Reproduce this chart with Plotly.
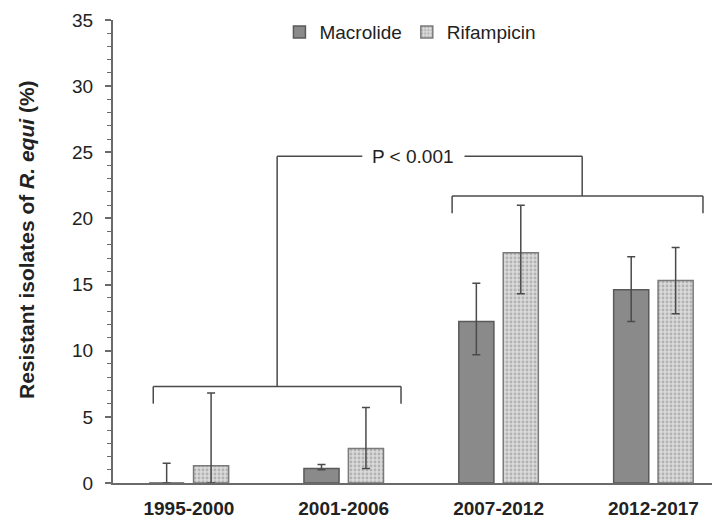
import plotly.graph_objects as go

# data
periods = ["1995-2000", "2001-2006", "2007-2012", "2012-2017"]
macrolide = [0.0, 1.1, 12.2, 14.6]
macrolide_hi = [1.5, 1.4, 15.1, 17.1]
macrolide_lo = [0.0, 1.0, 9.7, 12.2]
rifampicin = [1.3, 2.6, 17.4, 15.3]
rifampicin_hi = [6.8, 5.7, 21.0, 17.8]
rifampicin_lo = [0.0, 1.1, 14.3, 12.8]
p_label = "P < 0.001"

DARK = "#4a4a4a"
TXT = "#222222"
AXIS = "#6a6a6a"

fig = go.Figure()

fig.add_trace(go.Bar(
    x=list(range(len(periods))),
    y=macrolide,
    name="Macrolide",
    marker=dict(color="#8a8a8a", line=dict(color="#5a5a5a", width=1.5)),
    error_y=dict(
        type="data", symmetric=False,
        array=[h - v for h, v in zip(macrolide_hi, macrolide)],
        arrayminus=[v - l for v, l in zip(macrolide, macrolide_lo)],
        color=DARK, thickness=1.5, width=4,
    ),
))

fig.add_trace(go.Bar(
    x=list(range(len(periods))),
    y=rifampicin,
    name="Rifampicin",
    marker=dict(
        color="#d4d4d4",
        line=dict(color="#7a7a7a", width=1.5),
        pattern=dict(shape=".", fgcolor="#8a8a8a", bgcolor="#dadada", size=4, solidity=0.4),
    ),
    error_y=dict(
        type="data", symmetric=False,
        array=[h - v for h, v in zip(rifampicin_hi, rifampicin)],
        arrayminus=[v - l for v, l in zip(rifampicin, rifampicin_lo)],
        color=DARK, thickness=1.5, width=4,
    ),
))

# significance brackets
line = dict(color=DARK, width=1.5)
# lower bracket over first two periods
fig.add_shape(type="line", x0=-0.23, x1=1.37, y0=7.3, y1=7.3, line=line)
fig.add_shape(type="line", x0=-0.23, x1=-0.23, y0=7.3, y1=6.0, line=line)
fig.add_shape(type="line", x0=1.37, x1=1.37, y0=7.3, y1=6.0, line=line)
fig.add_shape(type="line", x0=0.57, x1=0.57, y0=7.3, y1=24.7, line=line)
# upper bracket over last two periods
fig.add_shape(type="line", x0=1.70, x1=3.32, y0=21.7, y1=21.7, line=line)
fig.add_shape(type="line", x0=1.70, x1=1.70, y0=21.7, y1=20.4, line=line)
fig.add_shape(type="line", x0=3.32, x1=3.32, y0=21.7, y1=20.4, line=line)
fig.add_shape(type="line", x0=2.54, x1=2.54, y0=21.7, y1=24.7, line=line)
# top connector with text gap
fig.add_shape(type="line", x0=0.57, x1=1.12, y0=24.7, y1=24.7, line=line)
fig.add_shape(type="line", x0=1.78, x1=2.54, y0=24.7, y1=24.7, line=line)
fig.add_annotation(x=1.45, y=24.7, text=p_label, showarrow=False,
                   font=dict(size=19, color=TXT), xanchor="center", yanchor="middle")

# y axis title as a rotated annotation so its position is fixed
fig.add_annotation(
    xref="paper", yref="paper", x=-0.1417, y=0.527,
    text="<b>Resistant isolates of <i>R. equi</i> (%)</b>",
    textangle=-90, showarrow=False, xanchor="center", yanchor="middle",
    font=dict(size=21, color=TXT),
)

# the page body adds an 8px margin, so the figure is 712x512
fig.update_layout(
    width=712, height=512,
    margin=dict(l=105, r=0, t=12, b=37),
    plot_bgcolor="white", paper_bgcolor="white",
    font=dict(family="Liberation Sans, Arial, sans-serif", color=TXT),
    barmode="group",
    bargap=0.426,
    bargroupgap=0.21,
    showlegend=True,
    legend=dict(
        orientation="h", x=0.49, xanchor="center", y=0.974, yanchor="middle",
        font=dict(size=19, color=TXT), bgcolor="rgba(0,0,0,0)",
        itemwidth=30, tracegroupgap=0,
    ),
)

fig.update_xaxes(
    range=[-0.49, 3.43],
    tickmode="array",
    tickvals=list(range(len(periods))),
    ticktext=[f"<b>{p}</b>" for p in periods],
    tickfont=dict(size=19, color=TXT),
    ticklabelstandoff=7,
    showline=True, linecolor=AXIS, linewidth=2,
    ticks="", showgrid=False, zeroline=False, automargin=False,
)

fig.update_yaxes(
    range=[0, 35],
    tick0=0, dtick=5,
    ticks="outside", ticklen=6, tickwidth=1.5, tickcolor=AXIS,
    minor=dict(ticks="outside", ticklen=4, dtick=1, tickcolor=AXIS, tickwidth=1),
    tickfont=dict(size=19, color=TXT),
    ticklabelstandoff=8,
    showline=True, linecolor=AXIS, linewidth=2,
    showgrid=False, zeroline=False, automargin=False,
)

fig.write_html("out.html")
